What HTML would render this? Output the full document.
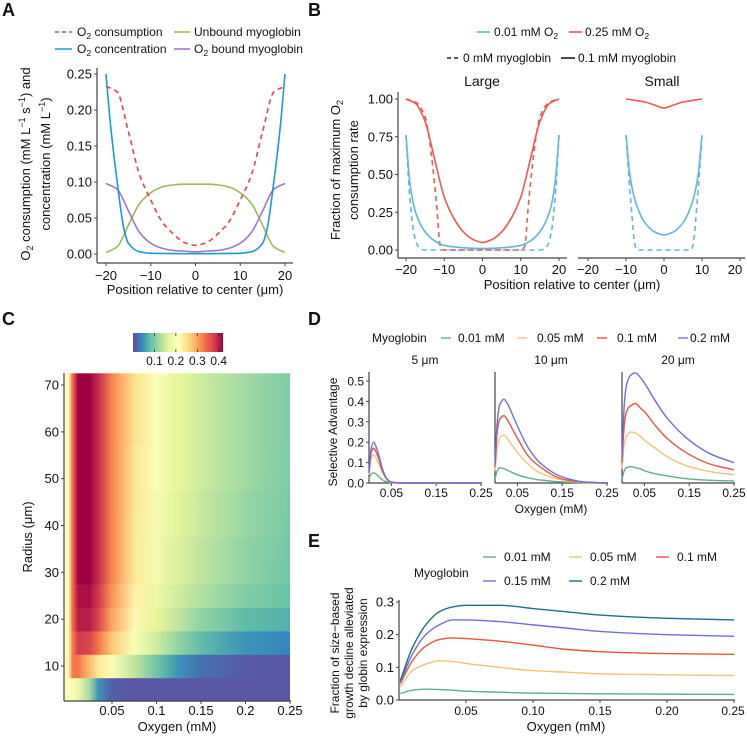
<!DOCTYPE html>
<html><head><meta charset="utf-8"><style>
html,body{margin:0;padding:0;background:#fff}
svg{display:block;font-family:"Liberation Sans",Arial,sans-serif}
</style></head><body>
<svg id="fig" width="747" height="736" viewBox="0 0 747 736">
<defs id="defs"></defs>
<g id="root"></g>
</svg>
<script>
// ---------- Panel A data ----------
const aX = [-20,-17.5,-15,-12.5,-10,-7.5,-5,-2.5,0,2.5,5,7.5,10,12.5,15,17.5,20];
const aConsumption = [.233,.225,.17,.11,.075,.045,.028,.016,.012,.016,.028,.045,.075,.11,.17,.225,.233];
const aConcX = [-20,-19,-17.5,-16,-15,-12.5,-10,0,10,12.5,15,16,17.5,19,20];
const aConcentration = [.25,.18,.1,.035,.015,.003,.001,.0005,.001,.003,.015,.035,.1,.18,.25];
const aUnbound = [.002,.01,.04,.07,.085,.093,.096,.097,.097,.097,.096,.093,.085,.07,.04,.01,.002];
const aBound = [.098,.09,.06,.03,.015,.008,.005,.004,.003,.004,.005,.008,.015,.03,.06,.09,.098];
const aYTicks = [0,0.05,0.10,0.15,0.20,0.25];
const aXTicks = [-20,-10,0,10,20];
// ---------- Panel B data ----------
const bRedSolidX = [-20,-17.5,-15,-12.5,-10,-7.5,-5,-2.5,0,2.5,5,7.5,10,12.5,15,17.5,20];
const bRedSolid = [1,.97,.85,.6,.35,.21,.12,.07,.05,.07,.12,.21,.35,.6,.85,.97,1];
const bRedDashX = [-20,-17.5,-15,-14,-13,-12,-11,-10,0,10,11,12,13,14,15,17.5,20];
const bRedDash = [1,.98,.88,.75,.55,.3,.02,0,0,0,.02,.3,.55,.75,.88,.98,1];
const bBlueSolidX = [-20,-19,-17.5,-15,-12.5,-10,-5,0,5,10,12.5,15,17.5,19,20];
const bBlueSolid = [.76,.45,.25,.12,.06,.03,.015,.01,.015,.03,.06,.12,.25,.45,.76];
const bBlueDashX = [-20,-19,-18,-17,-16,-15,0,15,16,17,18,19,20];
const bBlueDash = [.76,.35,.12,.03,.005,0,0,0,.005,.03,.12,.35,.76];
const bSmallRedX = [-10,-5,-2.5,0,2.5,5,10];
const bSmallRed = [1,.98,.96,.94,.96,.98,1];
const bSmallBlueX = [-10,-9,-7.5,-5,-2.5,0,2.5,5,7.5,9,10];
const bSmallBlue = [.76,.5,.32,.18,.12,.1,.12,.18,.32,.5,.76];
const bSmallBlueDashX = [-10,-9,-8.5,-8,-7.5,-7,0,7,7.5,8,8.5,9,10];
const bSmallBlueDash = [.76,.4,.25,.1,.02,0,0,0,.02,.1,.25,.4,.76];
const bYTicks = [0,0.25,0.5,0.75,1.0];
const bXTicks = [-20,-10,0,10,20];
// ---------- Panel C data ----------
const cOxygen = [0.001,0.006,0.012,0.025,0.035,0.05,0.075,0.1,0.125,0.15,0.2,0.25];
const cRadii = [5,10,15,20,25,30,35,40,45,50,55,60,65,70];
const cRows = [
 [.2,.2,.18,.12,.05,.01,.005,.005,.005,.005,.005,.005],
 [.22,.33,.33,.28,.24,.2,.14,.09,.05,.025,.008,.005],
 [.2,.33,.38,.37,.33,.27,.2,.15,.11,.08,.05,.04],
 [.2,.34,.40,.40,.37,.3,.22,.17,.14,.11,.08,.07],
 [.2,.34,.41,.41,.38,.31,.23,.18,.15,.13,.1,.085],
 [.2,.34,.42,.42,.39,.32,.24,.19,.16,.14,.11,.09],
 [.2,.34,.42,.42,.39,.32,.24,.19,.16,.14,.11,.092],
 [.2,.34,.42,.42,.39,.32,.24,.195,.165,.145,.115,.095],
 [.2,.34,.42,.42,.39,.32,.245,.195,.165,.145,.115,.097],
 [.2,.34,.42,.42,.39,.32,.245,.2,.17,.15,.12,.098],
 [.2,.34,.42,.42,.39,.32,.245,.2,.17,.15,.12,.099],
 [.2,.34,.42,.42,.39,.32,.25,.2,.17,.15,.12,.1],
 [.2,.34,.42,.42,.39,.32,.25,.2,.17,.15,.12,.1],
 [.2,.34,.42,.42,.39,.32,.25,.2,.17,.15,.12,.1]
];
const cXTicks = [0.05,0.1,0.15,0.2,0.25];
const cYTicks = [10,20,30,40,50,60,70];
const cBarTicks = [0.1,0.2,0.3,0.4];
// ---------- Panel D data ----------
const dOxygen = [0,0.005,0.01,0.02,0.03,0.04,0.05,0.075,0.1,0.15,0.2,0.25];
const dLevels = ["0.01 mM","0.05 mM","0.1 mM","0.2 mM"];
const dFacets = ["5 \u03bcm","10 \u03bcm","20 \u03bcm"];
const d5 = [
 [.02,.045,.05,.035,.015,.005,.001,0,0,0,0,0],
 [.04,.12,.14,.1,.05,.015,.003,0,0,0,0,0],
 [.05,.15,.17,.13,.06,.02,.004,0,0,0,0,0],
 [.05,.17,.2,.15,.07,.02,.005,0,0,0,0,0]];
const d10 = [
 [.02,.06,.075,.07,.06,.05,.04,.025,.015,.005,.001,0],
 [.06,.17,.22,.235,.21,.18,.15,.09,.05,.015,.003,0],
 [.08,.25,.31,.33,.3,.26,.22,.13,.08,.02,.004,0],
 [.1,.3,.38,.41,.38,.33,.28,.17,.1,.03,.005,0]];
const d20 = [
 [.02,.06,.075,.08,.075,.07,.06,.045,.035,.02,.013,.01],
 [.07,.19,.23,.25,.245,.23,.21,.17,.13,.08,.055,.04],
 [.1,.28,.35,.38,.39,.37,.35,.28,.22,.14,.09,.065],
 [.12,.38,.48,.53,.54,.52,.49,.4,.32,.21,.14,.10]];
const dYTicks = [0,0.1,0.2,0.3,0.4,0.5];
const dXTicks = [0.05,0.15,0.25];
// ---------- Panel E data ----------
const eOxygen = [0.001,0.01,0.02,0.03,0.04,0.05,0.075,0.1,0.125,0.15,0.2,0.25];
const eLevels = ["0.01 mM","0.05 mM","0.1 mM","0.15 mM","0.2 mM"];
const eSeries = [
 [.02,.03,.033,.032,.03,.027,.024,.021,.02,.019,.018,.017],
 [.04,.09,.11,.12,.118,.112,.1,.09,.085,.08,.077,.075],
 [.05,.12,.165,.185,.19,.188,.18,.168,.155,.148,.142,.14],
 [.055,.14,.2,.23,.245,.245,.24,.23,.22,.21,.2,.195],
 [.06,.16,.23,.27,.285,.29,.29,.28,.27,.26,.25,.245]];
const eYTicks = [0,0.1,0.2,0.3];
const eXTicks = [0.05,0.10,0.15,0.20,0.25];

const NS = "http://www.w3.org/2000/svg";
const root = document.getElementById('root');
function el(tag, attrs, parent, text){
  const e = document.createElementNS(NS, tag);
  for (const k in attrs) e.setAttribute(k, attrs[k]);
  if (text !== undefined) e.textContent = text;
  (parent || root).appendChild(e);
  return e;
}
function lin(d0,d1,r0,r1){ return v => r0 + (v-d0)/(d1-d0)*(r1-r0); }
function monoPath(px, py){
  const n = px.length; if (n<2) return "";
  const dx=[],s=[];
  for(let i=0;i<n-1;i++){dx.push(px[i+1]-px[i]); s.push((py[i+1]-py[i])/dx[i]);}
  const m=[s[0]];
  for(let i=1;i<n-1;i++){ if(s[i-1]*s[i]<=0) m.push(0); else m.push(3*(dx[i-1]+dx[i])/((2*dx[i]+dx[i-1])/s[i-1]+(dx[i]+2*dx[i-1])/s[i])); }
  m.push(s[n-2]);
  let d="M"+px[0].toFixed(2)+","+py[0].toFixed(2);
  for(let i=0;i<n-1;i++){
    const h=dx[i]/3;
    d+="C"+(px[i]+h).toFixed(2)+","+(py[i]+m[i]*h).toFixed(2)+" "+(px[i+1]-h).toFixed(2)+","+(py[i+1]-m[i+1]*h).toFixed(2)+" "+px[i+1].toFixed(2)+","+py[i+1].toFixed(2);
  }
  return d;
}
function series(xs, ys, sx, sy, color, name, dash, w){
  const p = el('path', {d: monoPath(xs.map(sx), ys.map(sy)), fill:'none', stroke:color, 'stroke-width': w||1.6});
  if (dash) p.setAttribute('stroke-dasharray', dash);
  
  
  return p;
}
function txt(x,y,s,size,anchor,name,extra){
  const t = el('text', Object.assign({x:x,y:y,'font-size':size,'text-anchor':anchor||'start',fill:'#111'}, extra||{}), root, s);
  
  
  return t;
}
function line(x1,y1,x2,y2,color,w,name,dash){
  const l = el('line',{x1:x1,y1:y1,x2:x2,y2:y2,stroke:color,'stroke-width':w});
  if (dash) l.setAttribute('stroke-dasharray', dash);
  
  
  return l;
}
function sub2(t, base, sub, rest){
  el('tspan',{},t,base);
  el('tspan',{'font-size':'0.72em',dy:'3'},t,sub);
  el('tspan',{dy:'-3'},t,rest);
}
const AX='#444';

// ---------- Panel letters ----------
txt(2,16,'A',18,'start','panel-label-a',{'font-weight':'bold'});
txt(308,16,'B',18,'start','panel-label-b',{'font-weight':'bold'});
txt(2,325,'C',18,'start','panel-label-c',{'font-weight':'bold'});
txt(308,325,'D',18,'start','panel-label-d',{'font-weight':'bold'});
txt(308,547,'E',18,'start','panel-label-e',{'font-weight':'bold'});

// ---------- Panel A ----------
(function(){
  const sx = lin(-20,20,106,285), sy = lin(0,0.25,254,74);
  line(97,68,97,263,AX,1.2,'a-y-axis');
  line(97,263,293,263,AX,1.2,'a-x-axis');
  aYTicks.forEach(v=>{ line(94,sy(v),97,sy(v),AX,1,'a-y-tick'); txt(92,sy(v)+4.5,v.toFixed(2),13,'end','a-y-tick-label'); });
  aXTicks.forEach(v=>{ line(sx(v),263,sx(v),266,AX,1,'a-x-tick'); txt(sx(v),280,(v<0?'\u2212'+(-v):String(v)),13,'middle','a-x-tick-label'); });
  txt(195,294,'Position relative to center (\u03bcm)',13,'middle','a-x-axis-title');
  let t1 = txt(0,0,'',13,'middle','a-y-axis-title-line1',{transform:'translate(30,164) rotate(-90)'});
  el('tspan',{},t1,'O'); el('tspan',{'font-size':'9',dy:'3'},t1,'2'); el('tspan',{dy:'-3'},t1,' consumption (mM L');
  el('tspan',{'font-size':'9',dy:'-5'},t1,'\u22121'); el('tspan',{dy:'5'},t1,' s'); el('tspan',{'font-size':'9',dy:'-5'},t1,'\u22121'); el('tspan',{dy:'5'},t1,') and');
  let t2 = txt(0,0,'',13,'middle','a-y-axis-title-line2',{transform:'translate(50,164) rotate(-90)'});
  el('tspan',{},t2,'concentration (mM L'); el('tspan',{'font-size':'9',dy:'-5'},t2,'\u22121'); el('tspan',{dy:'5'},t2,')');
  series(aX,aUnbound,sx,sy,'#9BBB59','unbound-myoglobin-line');
  series(aX,aBound,sx,sy,'#9F77CC','bound-myoglobin-line');
  series(aConcX,aConcentration,sx,sy,'#1B9AD6','o2-concentration-line');
  series(aX,aConsumption,sx,sy,'#EE4444','o2-consumption-line','5,4');
  line(55,32,72,32,'#EE4444',1.6,'legend-consumption-swatch','4,3');
  let l1=txt(77,36,'',12,'start','legend-o2-consumption'); sub2(l1,'O','2',' consumption');
  line(55,49,72,49,'#1B9AD6',1.6,'legend-concentration-swatch');
  let l2=txt(77,53,'',12,'start','legend-o2-concentration'); sub2(l2,'O','2',' concentration');
  line(174,32,190,32,'#9BBB59',1.6,'legend-unbound-swatch');
  txt(194,36,'Unbound myoglobin',12,'start','legend-unbound-myoglobin');
  line(174,49,190,49,'#9F77CC',1.6,'legend-bound-swatch');
  let l4=txt(194,53,'',12,'start','legend-bound-myoglobin'); sub2(l4,'O','2',' bound myoglobin');
})();

// ---------- Panel B ----------
(function(){
  const BL='#5FB6E0', RD='#EC5A50';
  const sy = lin(0,1,250,99);
  const sxL = lin(-20,20,406,559), sxS = lin(-20,20,588,740);
  line(398,92,398,258,AX,1.2,'b-y-axis');
  line(398,258,567,258,AX,1.2,'b-large-x-axis');
  line(578,258,745,258,AX,1.2,'b-small-x-axis');
  bYTicks.forEach(v=>{ line(395,sy(v),398,sy(v),AX,1,'b-y-tick'); txt(393,sy(v)+4.5,v.toFixed(2),13,'end','b-y-tick-label'); });
  bXTicks.forEach(v=>{ const s=(v<0?'\u2212'+(-v):String(v));
    line(sxL(v),258,sxL(v),261,AX,1,'b-x-tick'); txt(sxL(v),274,s,13,'middle','b-large-x-tick-label');
    line(sxS(v),258,sxS(v),261,AX,1,'b-x-tick'); txt(Math.min(sxS(v),735),274,s,13,'middle','b-small-x-tick-label'); });
  txt(482,86,'Large',14,'middle','b-facet-large');
  txt(662,86,'Small',14,'middle','b-facet-small');
  txt(572,289,'Position relative to center (\u03bcm)',13,'middle','b-x-axis-title');
  let t1=txt(0,0,'',13,'middle','b-y-axis-title-line1',{transform:'translate(340,170) rotate(-90)'});
  sub2(t1,'Fraction of maximum O','2','');
  txt(0,0,'consumption rate',13,'middle','b-y-axis-title-line2',{transform:'translate(358,170) rotate(-90)'});
  series(bBlueDashX,bBlueDash,sxL,sy,BL,'b-large-blue-dashed','5,4');
  series(bRedDashX,bRedDash,sxL,sy,RD,'b-large-red-dashed','5,4');
  series(bBlueSolidX,bBlueSolid,sxL,sy,BL,'b-large-blue-solid');
  series(bRedSolidX,bRedSolid,sxL,sy,RD,'b-large-red-solid');
  series(bSmallBlueDashX,bSmallBlueDash,sxS,sy,BL,'b-small-blue-dashed','5,4');
  series(bSmallBlueX,bSmallBlue,sxS,sy,BL,'b-small-blue-solid');
  series(bSmallRedX,bSmallRed,sxS,sy,RD,'b-small-red-solid');
  line(477,32,490,32,BL,1.6,'legend-001-swatch');
  let a=txt(494,36,'',12,'start','legend-001-o2'); sub2(a,'0.01 mM O','2','');
  line(569,32,582,32,RD,1.6,'legend-025-swatch');
  let b=txt(585,36,'',12,'start','legend-025-o2'); sub2(b,'0.25 mM O','2','');
  line(447,58,459,58,'#222',1.6,'legend-0-myo-swatch','4,3');
  txt(463,62,'0 mM myoglobin',12,'start','legend-0-myoglobin');
  line(561,58,575,58,'#222',1.6,'legend-01-myo-swatch');
  txt(578,62,'0.1 mM myoglobin',12,'start','legend-01-myoglobin');
})();

// ---------- Panel C ----------
const SPECTRAL=['#5E4FA2','#3288BD','#66C2A5','#ABDDA4','#E6F598','#FFFFBF','#FEE08B','#FDAE61','#F46D43','#D53E4F','#9E0142'];
function cmap(v){
  let t = Math.max(0,Math.min(1,v/0.42))*(SPECTRAL.length-1);
  const i=Math.min(Math.floor(t),SPECTRAL.length-2), f=t-i;
  const a=SPECTRAL[i], b=SPECTRAL[i+1];
  const c=[1,3,5].map(k=>Math.round(parseInt(a.substr(k,2),16)*(1-f)+parseInt(b.substr(k,2),16)*f));
  return 'rgb('+c.join(',')+')';
}
(function(){
  const defs=document.getElementById('defs');
  const sx = lin(0.05,0.25,112,290), sy = lin(10,70,666,385);
  const L=65, R=290;
  cRadii.forEach((r,ri)=>{
    const g=el('linearGradient',{id:'hg'+ri,gradientUnits:'userSpaceOnUse',x1:L,y1:0,x2:R,y2:0},defs);
    cOxygen.forEach((o,oi)=>{ el('stop',{offset:Math.max(0,(sx(o)-L)/(R-L)),'stop-color':cmap(cRows[ri][oi])},g); });
    const y0=sy(r+2.5), y1=sy(r-2.5);
    const rc=el('rect',{x:L,y:y0,width:R-L,height:y1-y0+0.5,fill:'url(#hg'+ri+')'});
    
    
  });
  line(64,373,64,701,AX,1.2,'c-y-axis');
  line(64,701,291,701,AX,1.2,'c-x-axis');
  cYTicks.forEach(v=>{ line(61,sy(v),64,sy(v),AX,1,'c-y-tick'); txt(59,sy(v)+4.5,String(v),13,'end','c-y-tick-label'); });
  cXTicks.forEach(v=>{ line(sx(v),701,sx(v),704,AX,1,'c-x-tick'); txt(sx(v),715,String(v),13,'middle','c-x-tick-label'); });
  txt(177,731,'Oxygen (mM)',13,'middle','c-x-axis-title');
  txt(0,0,'Radius (\u03bcm)',13,'middle','c-y-axis-title',{transform:'translate(32,537) rotate(-90)'});
  const g=el('linearGradient',{id:'cbar',x1:0,y1:0,x2:1,y2:0},defs);
  SPECTRAL.forEach((c,i)=>el('stop',{offset:i/(SPECTRAL.length-1),'stop-color':c},g));
  const cb=el('rect',{x:133,y:333,width:90,height:19,fill:'url(#cbar)'});
   
  const cbx=lin(0,0.42,133,223);
  cBarTicks.forEach(v=>{ line(cbx(v),333,cbx(v),336,'#333',0.8,'colorbar-tick'); line(cbx(v),349,cbx(v),352,'#333',0.8,'colorbar-tick'); txt(cbx(v),365,String(v),12,'middle','colorbar-tick-label'); });
})();

// ---------- Panel D ----------
const DCOL=['#5FAD8B','#F6C27A','#E8553F','#6B6FE0'];
(function(){
  const sy = lin(0,0.5,483,381);
  const x0s=[369,495,622];
  const facetData=[d5,d10,d20];
  line(369,372,369,483,AX,1.2,'d-y-axis');
  dYTicks.forEach(v=>{ line(366,sy(v),369,sy(v),AX,1,'d-y-tick'); txt(364,sy(v)+4.5,v.toFixed(1),12,'end','d-y-tick-label'); });
  x0s.forEach((x0,fi)=>{
    const sx=lin(0,0.25,x0,x0+112);
    if(fi>0) line(x0,372,x0,483,AX,1.2,'d-facet-y-axis');
    line(x0,483,x0+113,483,AX,1.2,'d-x-axis');
    dXTicks.forEach(v=>{ line(sx(v),483,sx(v),486,AX,1,'d-x-tick'); txt(sx(v),497,String(v),12,'middle','d-x-tick-label'); });
    txt(x0+56,364,dFacets[fi],12,'middle','d-facet-label');
    facetData[fi].forEach((ys,li)=>series(dOxygen,ys,sx,sy,DCOL[li],'d-line-'+dLevels[li].replace(/[ .]/g,'')+'-f'+fi,null,1.4));
  });
  txt(551,513,'Oxygen (mM)',12,'middle','d-x-axis-title');
  txt(0,0,'Selective Advantage',12,'middle','d-y-axis-title',{transform:'translate(337,432) rotate(-90)'});
  txt(372,342,'Myoglobin',12,'start','d-legend-title');
  const lx=[441,517,597,678], tx=[458,537,617,690];
  dLevels.forEach((s,i)=>{ line(lx[i],338,lx[i]+10,338,DCOL[i],1.4,'d-legend-swatch'); txt(tx[i],342,s,12,'start','d-legend-entry'); });
})();

// ---------- Panel E ----------
const ECOL=['#5FAD8B','#F6C27A','#E8553F','#6B6FE0','#1F6E8C'];
(function(){
  const sx=lin(0,0.25,399,734), sy=lin(0,0.3,700,602);
  line(399,600,399,700,AX,1.2,'e-y-axis');
  line(399,700,735,700,AX,1.2,'e-x-axis');
  eYTicks.forEach(v=>{ line(396,sy(v),399,sy(v),AX,1,'e-y-tick'); txt(394,sy(v)+4.5,v.toFixed(1),13,'end','e-y-tick-label'); });
  eXTicks.forEach(v=>{ line(sx(v),700,sx(v),703,AX,1,'e-x-tick'); txt(Math.min(sx(v),733),715,v.toFixed(2),12,'middle','e-x-tick-label'); });
  txt(566,731,'Oxygen (mM)',13,'middle','e-x-axis-title');
  txt(0,0,'Fraction of size\u2212based',12,'middle','e-y-axis-title-1',{transform:'translate(339,653) rotate(-90)'});
  txt(0,0,'growth decline alleviated',12,'middle','e-y-axis-title-2',{transform:'translate(353,653) rotate(-90)'});
  txt(0,0,'by globin expression',12,'middle','e-y-axis-title-3',{transform:'translate(367,653) rotate(-90)'});
  eSeries.forEach((ys,i)=>series(eOxygen,ys,sx,sy,ECOL[i],'e-line-'+eLevels[i].replace(/[ .]/g,''),null,1.4));
  txt(414,577,'Myoglobin',12,'start','e-legend-title');
  const pos=[[483,561],[569,561],[656,561],[483,585],[569,585]];
  eLevels.forEach((s,i)=>{ line(pos[i][0],pos[i][1]-4,pos[i][0]+13,pos[i][1]-4,ECOL[i],1.4,'e-legend-swatch'); txt(pos[i][0]+21,pos[i][1],s,12,'start','e-legend-entry'); });
})();
</script>
</body></html>
